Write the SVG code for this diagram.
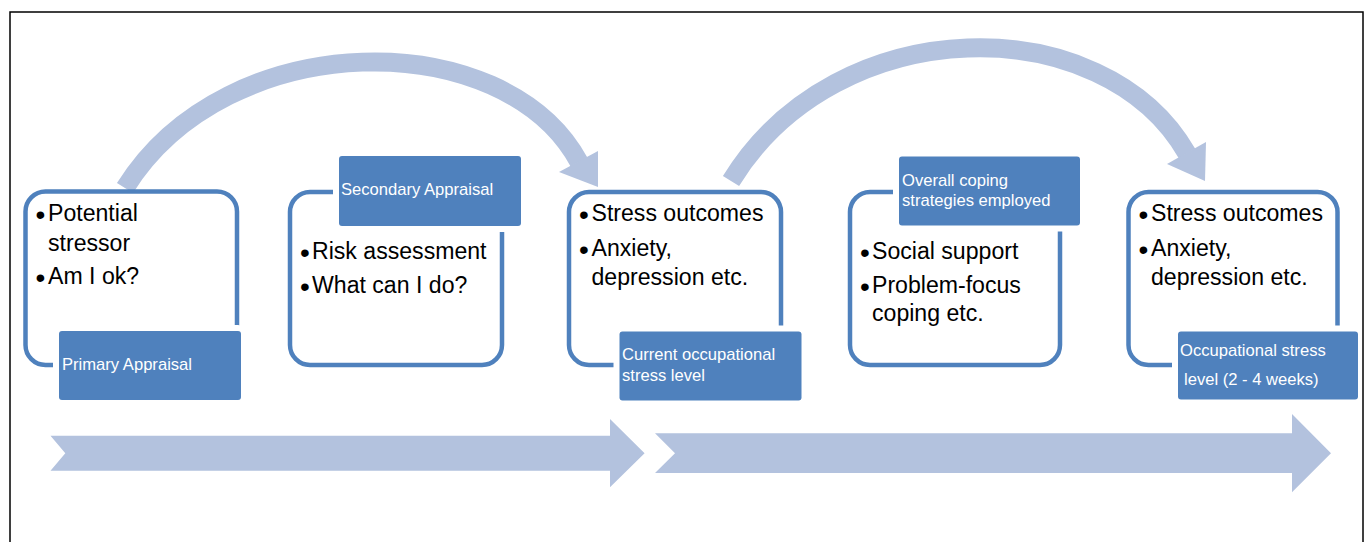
<svg xmlns="http://www.w3.org/2000/svg" width="1366" height="542" viewBox="0 0 1366 542">
<defs>
<style>
.frame{fill:none;stroke:#000;stroke-width:1.5}
.outline{fill:none;stroke:#4F81BD;stroke-width:4.5}
.label{fill:#4F81BD;stroke:#fff;stroke-width:12;paint-order:stroke}
.ltxt{font-family:"Liberation Sans",Arial,sans-serif;font-size:16.6px;fill:#fff}
.mtxt{font-family:"Liberation Sans",Arial,sans-serif;font-size:23.1px;fill:#000}
.b{font-size:28px}
.shaft{fill:none;stroke:#B3C2DE;stroke-width:19;stroke-linecap:butt}
.head{fill:#B3C2DE}
.big{fill:#B3C2DE}
</style>
</defs>
<rect width="1366" height="542" fill="#fff"/>

<g id="process-arrows">
<polygon class="big" points="50.5,435.7 610,435.7 610,419 644.6,453.3 610,487.3 610,470.7 50.5,470.7 65.3,453.3"/>
<polygon class="big" points="655,433.3 1292,433.3 1292,414 1331,453.3 1292,492.3 1292,473 655,473 675,453.3"/>
</g>

<g id="connectors">
<path class="shaft" d="M125,188 C227,24.5 504.5,24.5 579,162"/>
<polygon class="head" points="598,151 559,172 598,187"/>
<path class="shaft" d="M731,181 C837,8.3 1104,8.3 1187,153.5"/>
<polygon class="head" points="1206,142 1167,164 1205,181"/>
</g>

<g id="node-primary">
<rect class="outline" x="25.5" y="191.5" width="211.5" height="173.5" rx="20"/>
<rect class="label" x="59" y="331" width="182" height="69" rx="3"/>
<text class="ltxt" x="62" y="370">Primary Appraisal</text>
<text class="mtxt" y="221"><tspan class="b" x="35.5" dy="3">•</tspan><tspan x="48" dy="-3">Potential</tspan></text>
<text class="mtxt" x="48" y="251">stressor</text>
<text class="mtxt" y="284"><tspan class="b" x="35.5" dy="3">•</tspan><tspan x="48" dy="-3">Am I ok?</tspan></text>
</g>

<g id="node-secondary">
<rect class="outline" x="290" y="192" width="212" height="173" rx="20"/>
<rect class="label" x="339" y="156" width="182" height="70" rx="3"/>
<text class="ltxt" x="341" y="195">Secondary Appraisal</text>
<text class="mtxt" y="259"><tspan class="b" x="300" dy="3">•</tspan><tspan x="312" dy="-3">Risk assessment</tspan></text>
<text class="mtxt" y="293"><tspan class="b" x="300" dy="3">•</tspan><tspan x="312" dy="-3">What can I do?</tspan></text>
</g>

<g id="node-current">
<rect class="outline" x="569" y="192" width="212" height="173" rx="20"/>
<rect class="label" x="619.5" y="331.5" width="182" height="69" rx="3"/>
<text class="ltxt" x="622" y="360">Current occupational</text>
<text class="ltxt" x="622" y="381">stress level</text>
<text class="mtxt" y="221"><tspan class="b" x="579" dy="3">•</tspan><tspan x="591.5" dy="-3">Stress outcomes</tspan></text>
<text class="mtxt" y="255.5"><tspan class="b" x="579" dy="3">•</tspan><tspan x="591.5" dy="-3">Anxiety,</tspan></text>
<text class="mtxt" x="591.5" y="285">depression etc.</text>
</g>

<g id="node-coping">
<rect class="outline" x="850" y="192" width="210" height="173" rx="20"/>
<rect class="label" x="899" y="156.5" width="181" height="69" rx="3"/>
<text class="ltxt" x="902" y="186">Overall coping</text>
<text class="ltxt" x="902" y="206">strategies employed</text>
<text class="mtxt" y="258.5"><tspan class="b" x="860" dy="3">•</tspan><tspan x="872" dy="-3">Social support</tspan></text>
<text class="mtxt" y="292.5"><tspan class="b" x="860" dy="3">•</tspan><tspan x="872" dy="-3">Problem-focus</tspan></text>
<text class="mtxt" x="872" y="320.5">coping etc.</text>
</g>

<g id="node-followup">
<rect class="outline" x="1128.5" y="192" width="209" height="173" rx="20"/>
<rect class="label" x="1178" y="331.5" width="180" height="68" rx="3"/>
<text class="ltxt" x="1180" y="355.5">Occupational stress</text>
<text class="ltxt" x="1184" y="385">level (2 - 4 weeks)</text>
<text class="mtxt" y="221"><tspan class="b" x="1138.5" dy="3">•</tspan><tspan x="1151" dy="-3">Stress outcomes</tspan></text>
<text class="mtxt" y="255.5"><tspan class="b" x="1138.5" dy="3">•</tspan><tspan x="1151" dy="-3">Anxiety,</tspan></text>
<text class="mtxt" x="1151" y="285">depression etc.</text>
</g>

<rect class="frame" x="10" y="12" width="1353" height="545"/>
</svg>
